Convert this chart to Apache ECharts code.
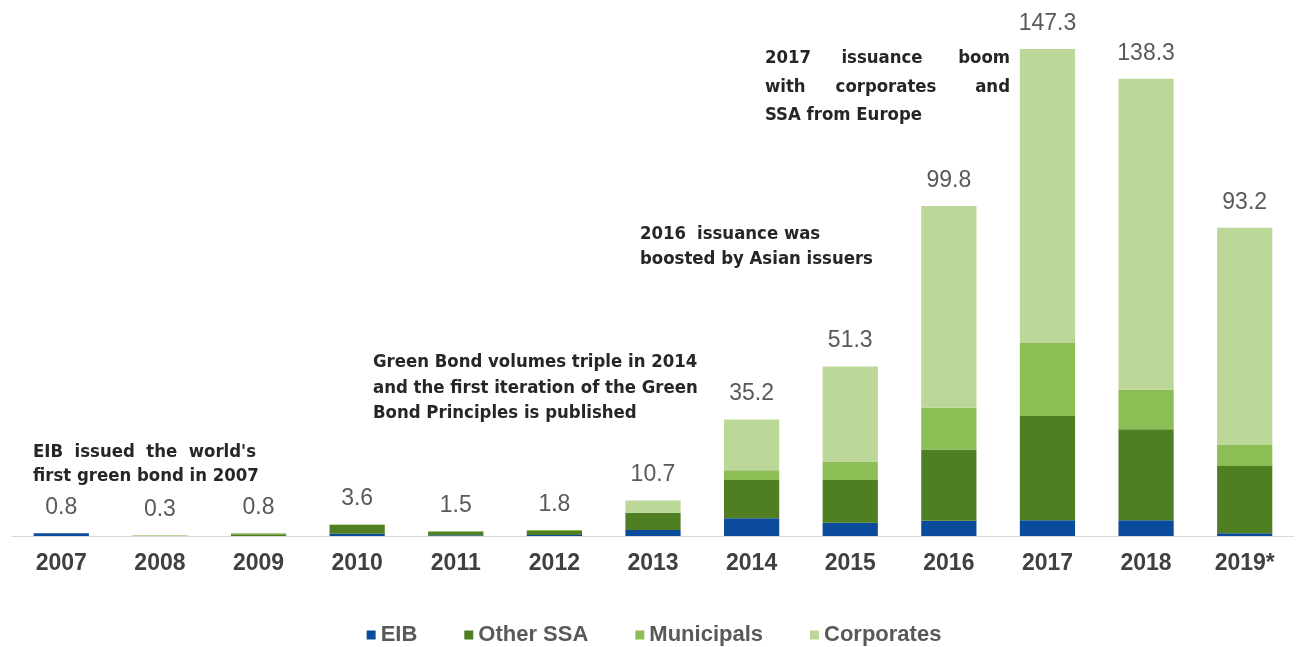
<!DOCTYPE html>
<html>
<head>
<meta charset="utf-8">
<script src="https://cdn.jsdelivr.net/npm/echarts@6/dist/echarts.min.js"></script>
<style>
html,body{margin:0;padding:0;background:#fff;}
#chart{width:1308px;height:647px;}
</style>
</head>
<body>
<div id="chart"></div>
<script>
var categories = ['2007','2008','2009','2010','2011','2012','2013','2014','2015','2016','2017','2018','2019*'];
var eib        = [0.8, 0,   0,   0.7, 0.2, 0.3, 1.8, 5.4,  4.0,  4.6,  4.8,  4.8,  0.8];
var otherSSA   = [0,   0,   0.5, 2.7, 1.1, 1.2, 5.2, 11.5, 12.9, 21.6, 31.5, 27.5, 20.4];
var municipals = [0,   0,   0.3, 0,   0.2, 0.3, 0,   3.0,  5.6,  12.6, 22.1, 11.9, 6.3];
var corporates = [0,   0.3, 0,   0.2, 0,   0,   3.7, 15.3, 28.8, 61.0, 88.9, 94.1, 65.7];
var totals     = [0.8, 0.3, 0.8, 3.6, 1.5, 1.8, 10.7, 35.2, 51.3, 99.8, 147.3, 138.3, 93.2];
var seriesNames = ['EIB','Other SSA','Municipals','Corporates'];

var colors = ['#0a4b9c','#4f7f22','#8dbd55','#bbd898'];
var annFont = "'DejaVu Sans Condensed','Liberation Sans Narrow','DejaVu Sans',sans-serif";
var baseFont = "'Liberation Sans', Arial, sans-serif";

function ann(text, x, y, align){
  return {type:'text', x:x, y:y, style:{text:text, x:0, y:0, fill:'#262626',
    font:'bold 18.4px ' + annFont, textAlign:align||'left', textVerticalAlign:'middle'}};
}

var chart = echarts.init(document.getElementById('chart'));
var stackSeries = [eib, otherSSA, municipals, corporates].map(function(d,i){
  return {name:seriesNames[i], type:'bar', stack:'total', data:d, barWidth:'56%',
    itemStyle:{color:colors[i]}, emphasis:{disabled:true}};
});
stackSeries.push({
  name:'Total', type:'bar', data:totals, barGap:'-100%', barWidth:'56%', silent:true, z:1,
  itemStyle:{color:'rgba(0,0,0,0)'},
  label:{show:true, position:'top', distance:14, color:'#595959', fontSize:23,
    fontFamily:baseFont, formatter:function(p){return p.value.toFixed(1);}}
});

chart.setOption({
  animation:false,
  color:colors,
  grid:{left:12, right:14, top:7, bottom:111, containLabel:false},
  legend:{data:seriesNames, left:'center', top:619, icon:'rect', itemWidth:9, itemHeight:9, itemGap:47,
    textStyle:{fontSize:22, fontWeight:'bold', color:'#595959', fontFamily:baseFont}},
  xAxis:{type:'category', data:categories,
    axisLine:{lineStyle:{color:'#d9d9d9', width:1}}, axisTick:{show:false},
    axisLabel:{fontSize:23, fontWeight:'bold', color:'#404040', margin:16, fontFamily:baseFont}},
  yAxis:{type:'value', min:0, max:160, show:false, splitLine:{show:false}},
  series:stackSeries,
  graphic:[
    ann("EIB  issued  the  world's", 33, 452),
    ann('first green bond in 2007', 33, 476),
    ann('Green Bond volumes triple in 2014', 373, 362),
    ann('and the first iteration of the Green', 373, 388),
    ann('Bond Principles is published', 373, 413),
    ann('2016', 640, 234),
    ann('issuance was', 697, 234),
    ann('boosted by Asian issuers', 640, 259),
    ann('2017', 765, 58),
    ann('issuance', 882, 58, 'center'),
    ann('boom', 1010, 58, 'right'),
    ann('with', 765, 87),
    ann('corporates', 886, 87, 'center'),
    ann('and', 1010, 87, 'right'),
    ann('SSA from Europe', 765, 115)
  ]
});
</script>
</body>
</html>
